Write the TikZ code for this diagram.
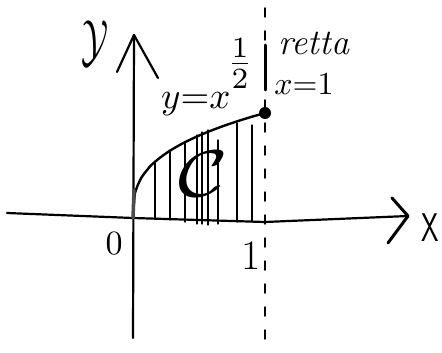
\documentclass[tikz,border=0pt]{standalone}
\usetikzlibrary{calc}
\begin{document}
\begin{tikzpicture}[x=1pt,y=-1pt,
  pen/.style={line width=2.2pt,line cap=round,line join=round},
  hatch/.style={line width=1.3pt,line cap=round},
  lbl/.style={inner sep=0pt}]
\useasboundingbox (0,0) rectangle (442,353);
% points
\coordinate (O) at (133,218);
\coordinate (ytop) at (134,35);
\coordinate (ybot) at (133,338);
\coordinate (xl) at (7,213);
\coordinate (xm) at (265,222);
\coordinate (xr) at (408,216);
\coordinate (P) at (265,113);
% axes
\draw[pen] (ybot) -- (ytop);
\draw[pen] (117,72) -- (ytop) -- (158,78);
\draw[pen] (xl) -- (O) -- (xm) -- (xr);
\draw[pen,line width=3pt] (392,198) -- (xr) -- (388,243);
% dashed line x=1
\draw[pen,line width=1.5pt,dash pattern=on 9pt off 14pt] (265,8) -- (265,353);
\draw[pen,line width=3pt] (265,45) -- (265,90);
% hatching
\foreach \x/\t/\b in {155/163/219,170/150/220,185/142/222,197/135/224,202/132/224,208/130/225,218/140/224,237/123/222,252/125/222}{
  \draw[hatch] (\x,\t) -- (\x,\b);
}
% curve
\draw[pen,line width=2.4pt] plot[domain=0:1,samples=80,smooth] ({133+132*\x},{218-105*(\x)^(0.35)});
\draw[pen,line width=3.5pt,gray!60!black] (133,218) -- (134,190);
\fill (P) circle (6pt);
% labels
\node[lbl] (ylab) at (95,44) {\scalebox{3.6}[5.8]{$\mathcal{Y}$}};
\node[lbl,font=\fontsize{40}{40}\selectfont\sffamily] (xlab) at (430,228) {\scalebox{0.7}[1]{X}};
\node[lbl] (olab) at (114,244) {\scalebox{3.4}{$0$}};
\node[lbl,font=\fontsize{42}{42}\selectfont] (onelab) at (251,256) {1};
\node[lbl,anchor=base west] (eq) at (161,108) {\scalebox{3.7}{$y{=}x$}\hspace{-4pt}\raisebox{34pt}{\scalebox{4.2}{$\textstyle\frac{1}{2}$}}};
\node[lbl,font=\fontsize{36}{36}\selectfont\itshape] (retta) at (314,43) {retta};
\node[lbl] (x1) at (304,84) {\scalebox{3.2}{$x{=}1$}};
\node[lbl] (C) at (203,174) {\scalebox{8.5}[6.6]{$\mathcal{C}$}};
\end{tikzpicture}
\end{document}
